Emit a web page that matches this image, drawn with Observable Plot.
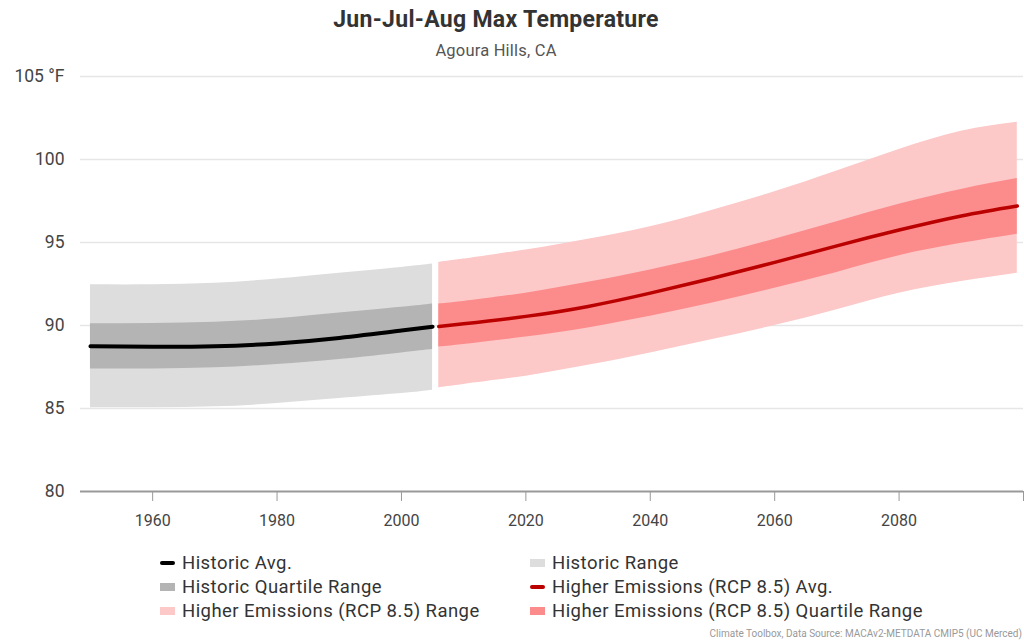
<!DOCTYPE html>
<html>
<head>
<meta charset="utf-8">
<script src="https://cdn.jsdelivr.net/npm/d3@7"></script>
<script src="https://cdn.jsdelivr.net/npm/@observablehq/plot@0.6"></script>
<style>
  html, body { margin: 0; padding: 0; background: #fff; }
  body { width: 1024px; height: 644px; position: relative; overflow: hidden; font-family: Roboto, "Noto Sans", sans-serif; }
  #title { position: absolute; top: 6px; left: 0; width: 992px; text-align: center; font-size: 23px; font-weight: 700; color: #333; letter-spacing: 0.3px; }
  #subtitle { position: absolute; top: 41px; left: 0; width: 992px; text-align: center; font-size: 16.5px; color: #555; letter-spacing: 0.2px; }
  #chart { position: absolute; top: 60px; left: 0; }
  #legend { position: absolute; top: 552px; left: 160px; width: 800px; }
  .item { position: absolute; font-size: 18.5px; color: #333; white-space: nowrap; display: flex; align-items: center; letter-spacing: 0.45px; }
  .sw { display: inline-block; width: 15px; margin-right: 7px; }
  #caption { position: absolute; right: 2px; top: 628px; font-size: 10px; color: #999; }
</style>
</head>
<body>
<div id="title">Jun-Jul-Aug Max Temperature</div>
<div id="subtitle">Agoura Hills, CA</div>
<div id="chart"></div>
<div id="legend"></div>
<div id="caption">Climate Toolbox, Data Source: MACAv2-METDATA CMIP5 (UC Merced)</div>
<script>
// Historic series
const histYears = [1950, 1960, 1970, 1980, 1990, 2000, 2005];
const histAvg   = [88.75, 88.72, 88.75, 88.92, 89.25, 89.7, 89.93];
const histQTop  = [90.1, 90.12, 90.2, 90.4, 90.75, 91.1, 91.3];
const histQBot  = [87.38, 87.38, 87.45, 87.65, 87.95, 88.35, 88.55];
const histRTop  = [92.45, 92.45, 92.55, 92.8, 93.15, 93.5, 93.7];
const histRBot  = [85.05, 85.05, 85.1, 85.3, 85.6, 85.9, 86.1];

// Higher emissions (RCP 8.5) series
const futYears = [2006, 2010, 2020, 2030, 2040, 2050, 2060, 2070, 2080, 2090, 2099];
const futAvg   = [89.94, 90.1, 90.55, 91.15, 91.95, 92.85, 93.8, 94.8, 95.75, 96.6, 97.2];
const futQTop  = [91.3, 91.45, 91.95, 92.6, 93.35, 94.2, 95.2, 96.25, 97.3, 98.2, 98.85];
const futQBot  = [88.7, 88.85, 89.3, 89.85, 90.55, 91.35, 92.25, 93.2, 94.2, 94.95, 95.5];
const futRTop  = [93.8, 94.0, 94.55, 95.2, 95.95, 96.95, 98.05, 99.3, 100.6, 101.7, 102.25];
const futRBot  = [86.25, 86.45, 86.95, 87.6, 88.35, 89.15, 90.0, 90.95, 91.95, 92.65, 93.15];

const yTicks = [80, 85, 90, 95, 100, 105];
const xTicks = [1960, 1980, 2000, 2020, 2040, 2060, 2080, 2100];

const legendItems = [
  {label: "Historic Avg.", color: "#000000", kind: "line"},
  {label: "Historic Range", color: "#dddddd", kind: "box"},
  {label: "Historic Quartile Range", color: "#b4b4b4", kind: "box"},
  {label: "Higher Emissions (RCP 8.5) Avg.", color: "#bb0000", kind: "line"},
  {label: "Higher Emissions (RCP 8.5) Range", color: "#fcc8c8", kind: "box"},
  {label: "Higher Emissions (RCP 8.5) Quartile Range", color: "#fc8b8b", kind: "box"}
];

const hist = histYears.map((y, i) => ({year: y, avg: histAvg[i], qt: histQTop[i], qb: histQBot[i], rt: histRTop[i], rb: histRBot[i]}));
const fut = futYears.map((y, i) => ({year: y, avg: futAvg[i], qt: futQTop[i], qb: futQBot[i], rt: futRTop[i], rb: futRBot[i]}));

const curve = "natural";

const plot = Plot.plot({
  width: 1024,
  height: 470,
  marginLeft: 80,
  marginRight: 1,
  marginTop: 16,
  marginBottom: 39,
  style: {fontFamily: "Roboto, sans-serif", background: "transparent"},
  x: {domain: [1948.4, 2100], axis: null},
  y: {domain: [80, 105], axis: null},
  marks: [
    Plot.ruleY([85, 90, 95, 100, 105], {stroke: "#e6e6e6", strokeWidth: 1.5}),
    Plot.areaY(hist, {x: "year", y1: "rb", y2: "rt", fill: legendItems[1].color, curve}),
    Plot.areaY(hist, {x: "year", y1: "qb", y2: "qt", fill: legendItems[2].color, curve}),
    Plot.areaY(fut, {x: "year", y1: "rb", y2: "rt", fill: legendItems[4].color, curve}),
    Plot.areaY(fut, {x: "year", y1: "qb", y2: "qt", fill: legendItems[5].color, curve}),
    Plot.lineY(hist, {x: "year", y: "avg", stroke: legendItems[0].color, strokeWidth: 4, strokeLinecap: "round", curve}),
    Plot.lineY(fut, {x: "year", y: "avg", stroke: legendItems[3].color, strokeWidth: 3.5, strokeLinecap: "round", curve}),
    Plot.ruleY([80], {stroke: "#999", strokeWidth: 2}),
    Plot.axisY(yTicks, {
      tickSize: 0, tickPadding: 16, fontSize: 17.5, fill: "#444", label: null,
      tickFormat: d => d === 105 ? "105 °F" : String(d)
    }),
    Plot.axisX(xTicks, {
      tickSize: 10, tickPadding: 13, fontSize: 16, fill: "#444", stroke: "#999", label: null,
      tickFormat: d => d === 2100 ? "" : String(d)
    })
  ]
});
document.getElementById("chart").appendChild(plot);

// Legend
const legend = document.getElementById("legend");
legendItems.forEach((it, i) => {
  const col = i % 2, row = Math.floor(i / 2);
  const div = document.createElement("div");
  div.className = "item";
  div.style.left = (col * 370) + "px";
  div.style.top = (row * 24) + "px";
  const sw = document.createElement("span");
  sw.className = "sw";
  sw.style.background = it.color;
  if (it.kind === "line") { sw.style.height = "4px"; sw.style.borderRadius = "2px"; }
  else { sw.style.height = "8px"; }
  div.appendChild(sw);
  div.appendChild(document.createTextNode(it.label));
  legend.appendChild(div);
});
</script>
</body>
</html>
